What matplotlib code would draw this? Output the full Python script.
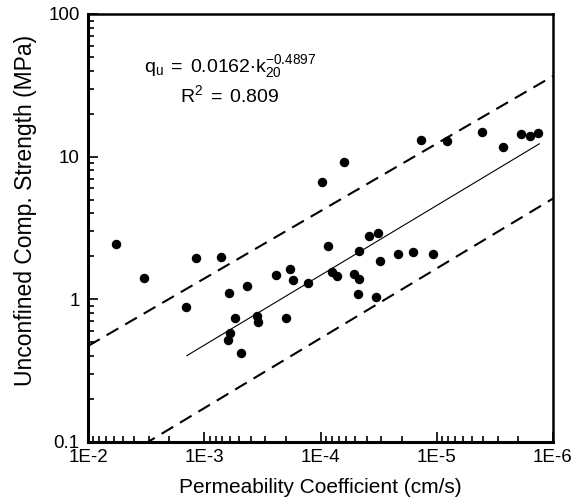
import matplotlib
matplotlib.use('Agg')
import matplotlib.pyplot as plt
import numpy as np
from matplotlib.ticker import LogLocator, FixedLocator, NullFormatter

plt.rcParams['font.family'] = ['Liberation Sans', 'DejaVu Sans']
plt.rcParams['mathtext.fontset'] = 'custom'
plt.rcParams['mathtext.rm'] = 'Liberation Sans'
plt.rcParams['mathtext.it'] = 'Liberation Sans'

# permeability k20 (cm/s) and unconfined compressive strength (MPa)
k_vals = [5.78e-3, 3.27e-3, 1.43e-3, 1.18e-3, 7.23e-4, 6.12e-4, 5.97e-4, 6.27e-4,
          5.43e-4, 4.79e-4, 4.28e-4, 3.52e-4, 3.43e-4, 2.40e-4, 1.82e-4, 1.73e-4,
          1.98e-4, 1.27e-4, 9.64e-5, 8.68e-5, 8.01e-5, 7.17e-5, 6.24e-5, 5.17e-5,
          4.64e-5, 4.74e-5, 4.64e-5, 3.80e-5, 3.23e-5, 3.30e-5, 3.05e-5, 2.14e-5,
          1.59e-5, 1.08e-5, 1.37e-5, 8.17e-6, 4.10e-6, 2.71e-6, 1.90e-6, 1.58e-6,
          1.34e-6]
qu_vals = [2.43, 1.42, 0.887, 1.94, 1.99, 1.11, 0.581, 0.519,
           0.743, 0.422, 1.246, 0.768, 0.692, 1.49, 1.63, 1.36,
           0.743, 1.31, 6.67, 2.38, 1.56, 1.46, 9.12, 1.50,
           1.38, 1.09, 2.17, 2.79, 2.90, 1.035, 1.87, 2.08,
           2.16, 2.08, 13.1, 12.8, 15.0, 11.7, 14.4, 14.0,
           14.6]

# power-law fit q = a * k^b and bounding lines
fit_coef, fit_exp = 0.0162, -0.4897
fit_range = [1.41e-3, 1.31e-6]
upper_coef, upper_exp = 0.0533, -0.473
lower_coef, lower_exp = 0.0162 * 0.362, -0.4897
bound_range = [1e-2, 1e-6]

fig = plt.figure(figsize=(5.83, 5.0), dpi=100)
ax = fig.add_axes([88 / 583, 58 / 500, 465 / 583, 428 / 500])

ax.plot(k_vals, qu_vals, 'o', color='black', ms=5.8, mec='black', zorder=3)

kf = np.logspace(np.log10(fit_range[0]), np.log10(fit_range[1]), 50)
ax.plot(kf, fit_coef * kf ** fit_exp, color='black', lw=0.8)

kb = np.logspace(np.log10(bound_range[0]), np.log10(bound_range[1]), 50)
for c, e in [(upper_coef, upper_exp), (lower_coef, lower_exp)]:
    ln, = ax.plot(kb, c * kb ** e, color='black', lw=1.5)
    ln.set_dashes((6.5, 3.8))

ax.set_xscale('log')
ax.set_yscale('log')
ax.set_xlim(1e-2, 1e-6)
ax.set_ylim(0.1, 100)

ax.xaxis.set_major_locator(FixedLocator([1e-2, 1e-3, 1e-4, 1e-5, 1e-6]))
ax.set_xticklabels(['1E-2', '1E-3', '1E-4', '1E-5', '1E-6'])
ax.xaxis.set_minor_locator(LogLocator(base=10, subs=np.arange(2, 10), numticks=20))
ax.xaxis.set_minor_formatter(NullFormatter())
ax.yaxis.set_major_locator(FixedLocator([0.1, 1, 10, 100]))
ax.set_yticklabels(['0.1', '1', '10', '100'])
ax.yaxis.set_minor_locator(LogLocator(base=10, subs=np.arange(2, 10), numticks=20))
ax.yaxis.set_minor_formatter(NullFormatter())

ax.tick_params(which='both', direction='in', top=False, right=False,
               labelsize=13.5, width=1.2, colors='black')
ax.tick_params(which='major', length=7)
ax.tick_params(which='minor', length=4.5)
ax.tick_params(axis='x', pad=5)
ax.tick_params(axis='y', pad=6)

for s in ['left', 'bottom']:
    ax.spines[s].set_linewidth(2.2)
for s in ['top', 'right']:
    ax.spines[s].set_linewidth(1.8)

ax.set_xlabel('Permeability Coefficient (cm/s)', fontsize=15)
ax.set_ylabel('Unconfined Comp. Strength (MPa)', fontsize=16.5)
ax.xaxis.set_label_coords(0.5, -0.083)
ax.yaxis.set_label_coords(-0.109, 0.54)

ax.text(0.305, 0.877, r'$\mathregular{q_u\;=\;0.0162{\cdot}k_{20}^{-0.4897}}$',
        transform=ax.transAxes, ha='center', va='center', fontsize=14)
ax.text(0.305, 0.811, r'$\mathregular{R^2\;=\;0.809}$',
        transform=ax.transAxes, ha='center', va='center', fontsize=14)

fig.savefig('out.png', dpi=100)
